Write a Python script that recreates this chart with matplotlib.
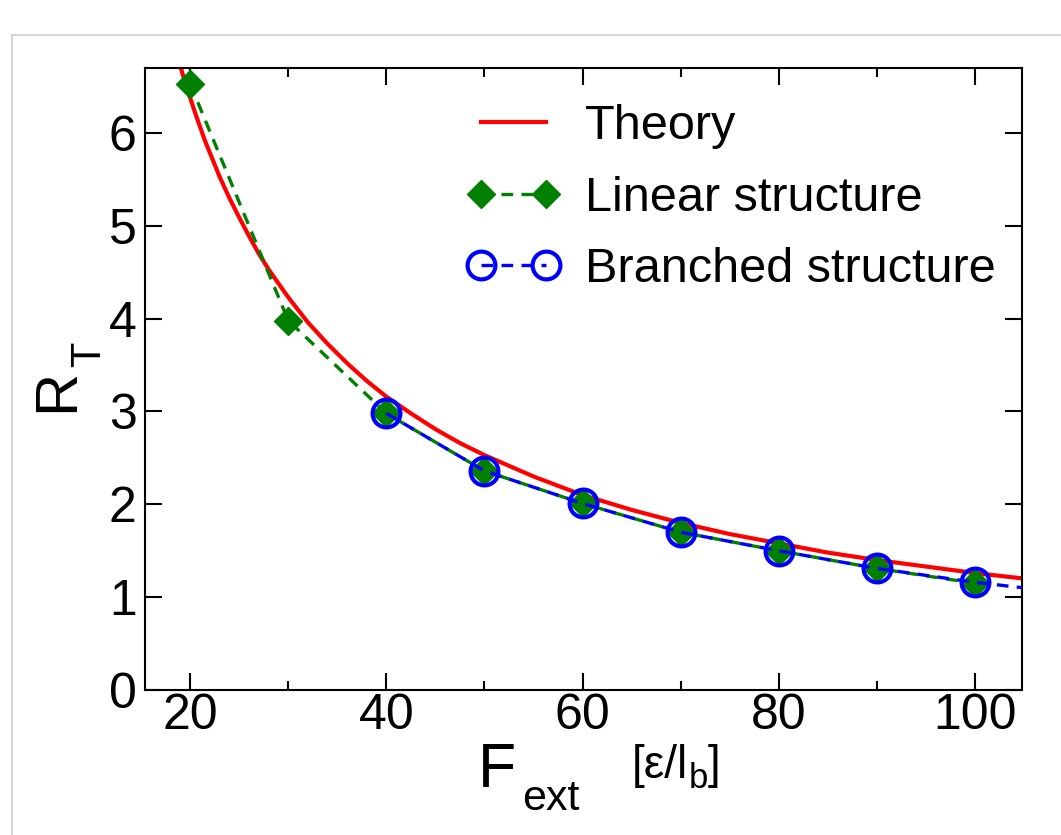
import numpy as np
import matplotlib.pyplot as plt
from matplotlib.lines import Line2D

plt.rcParams['font.family'] = ['Liberation Sans', 'DejaVu Sans']

# theory curve
f_theory = [18, 18.5, 19, 19.5, 20, 20.5, 21, 21.5, 22, 23, 24, 25, 26, 27,
            28, 29, 30, 32, 34, 36, 38, 40, 42.5, 45, 47.5, 50, 55, 60, 65,
            70, 75, 80, 85, 90, 95, 100, 105]
r_theory = [7.10, 6.90, 6.72, 6.54, 6.38, 6.22, 6.07, 5.92, 5.79, 5.53, 5.30,
            5.09, 4.89, 4.70, 4.53, 4.38, 4.23, 3.96, 3.73, 3.52, 3.33, 3.16,
            2.98, 2.81, 2.66, 2.53, 2.30, 2.10, 1.94, 1.80, 1.68, 1.58, 1.48,
            1.40, 1.33, 1.26, 1.20]

# simulation points
f_linear = [20, 30, 40, 50, 60, 70, 80, 90, 100]
r_linear = [6.53, 3.98, 2.98, 2.36, 2.01, 1.70, 1.50, 1.31, 1.15]

f_branched = [40, 50, 60, 70, 80, 90, 100, 110]
r_branched = [2.98, 2.36, 2.01, 1.70, 1.50, 1.31, 1.16, 1.04]

W, H = 1061, 835
fig = plt.figure(figsize=(W / 100, H / 100), dpi=100)
ax = fig.add_axes([145 / W, 1 - 690 / H, (1022 - 145) / W, (690 - 68) / H])

ax.plot(f_theory, r_theory, '-', color='red', lw=3, label='Theory', zorder=2)
ax.plot(f_linear, r_linear, '--', color='#008000', lw=2.4, dashes=(3.5, 2.5),
        marker='D', ms=14, mec='#008000', mfc='#008000', label='Linear structure',
        zorder=3)
ax.plot(f_branched, r_branched, '--', color='blue', lw=2.4, dashes=(3.5, 2.5),
        marker='o', ms=20, mec='blue', mfc='none', mew=3,
        label='Branched structure', zorder=4)

ax.set_xlim(15.4, 104.8)
ax.set_ylim(0, 6.7)
ax.set_xticks([20, 40, 60, 80, 100])
ax.set_xticks([30, 50, 70, 90], minor=True)
ax.set_yticks(range(7))
ax.tick_params(which='both', direction='in', top=True, right=True,
               labelsize=36, width=1.5)
ax.tick_params(which='major', length=12)
ax.tick_params(which='minor', length=6.5)
ax.tick_params(axis='x', pad=2)
ax.tick_params(axis='y', pad=6)
for s in ax.spines.values():
    s.set_linewidth(1.5)

leg = ax.legend(loc='upper left', bbox_to_anchor=(466 / W, 1 - 104 / H),
                bbox_transform=fig.transFigure, frameon=False, fontsize=35,
                numpoints=2, handlelength=1.95, handletextpad=0.5,
                labelspacing=0.55, borderpad=0, borderaxespad=0)

# y label R_T
fig.text(73 / W, 1 - 412 / H, 'R', fontsize=43, rotation=90,
         rotation_mode='anchor', ha='left', va='baseline')
fig.text(100 / W, 1 - 367 / H, 'T', fontsize=30, rotation=90,
         rotation_mode='anchor', ha='left', va='baseline')

# x label F_ext [ε/l_b]
fig.text(478 / W, 1 - 787 / H, 'F', fontsize=45, ha='left', va='baseline')
fig.text(522 / W, 1 - 810 / H, 'ext', fontsize=31, ha='left', va='baseline')
t1 = fig.text(632 / W, 1 - 778 / H, '[ε/l', fontsize=33, ha='left', va='baseline')
t2 = ax.annotate('b', xy=(1, 0), xycoords=t1, xytext=(0, 0),
                 textcoords='offset points', fontsize=25, ha='left', va='baseline',
                 annotation_clip=False)
ax.annotate(']', xy=(1, 0), xycoords=(t2, t1), fontsize=33, ha='left',
            va='bottom', annotation_clip=False)

# gray frame of the original screenshot
fig.add_artist(Line2D([12 / W, 1], [1 - 35 / H, 1 - 35 / H], color='#cccccc',
                      lw=1.2, transform=fig.transFigure))
fig.add_artist(Line2D([12 / W, 12 / W], [0, 1 - 35 / H], color='#cccccc',
                      lw=1.2, transform=fig.transFigure))

fig.savefig('out.png', dpi=100)
